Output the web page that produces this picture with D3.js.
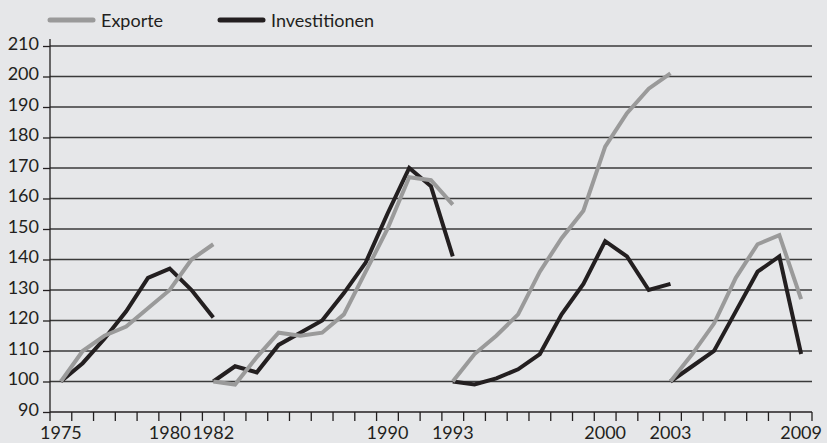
<!DOCTYPE html>
<html>
<head>
<meta charset="utf-8">
<script src="https://cdn.jsdelivr.net/npm/d3@7"></script>
<style>
  html, body { margin: 0; padding: 0; background: #e6e7e9; }
  svg { display: block; font-family: Lato, "Open Sans", sans-serif; }
</style>
</head>
<body>
<div id="chart"></div>
<script>
// categories: one band per year
var years = [1975, 1976, 1977, 1978, 1979, 1980, 1981, 1982, 1983, 1984, 1985, 1986,
  1987, 1988, 1989, 1990, 1991, 1992, 1993, 1994, 1995, 1996, 1997, 1998, 1999,
  2000, 2001, 2002, 2003, 2004, 2005, 2006, 2007, 2008, 2009];
var labelYears = [1975, 1980, 1982, 1990, 1993, 2000, 2003, 2009];
var yTicks = [90, 100, 110, 120, 130, 140, 150, 160, 170, 180, 190, 200, 210];

// each period is indexed to 100 in its first year
var periodStart = [1975, 1982, 1993, 2003];
var periodEnd = [1982, 1993, 2003, 2009];

var exporte1 = [100, 110, 115, 118, 124, 130, 140, 145];
var exporte2 = [100, 99, 108, 116, 115, 116, 122, 136, 150, 167, 166, 158];
var exporte3 = [100, 109, 115, 122, 136, 147, 156, 177, 188, 196, 201];
var exporte4 = [100, 109, 119, 134, 145, 148, 127];

var invest1 = [100, 106, 114, 123, 134, 137, 130, 121];
var invest2 = [100, 105, 103, 112, 116, 120, 129, 139, 155, 170, 164, 141];
var invest3 = [100, 99, 101, 104, 109, 122, 132, 146, 141, 130, 132];
var invest4 = [100, 105, 110, 123, 136, 141, 109];

var series = [
  { name: "Investitionen", color: "#231f20", periods: [invest1, invest2, invest3, invest4] },
  { name: "Exporte", color: "#9a9a9a", periods: [exporte1, exporte2, exporte3, exporte4] }
];

var w = 827, h = 443;
var svg = d3.select("#chart").append("svg")
  .attr("width", w)
  .attr("height", h);

var x = d3.scaleBand().domain(years).range([50, 812]);
var y = d3.scaleLinear().domain([90, 210]).range([412, 46]);
var cx = function(yr) { return x(yr) + x.bandwidth() / 2; };

// gridlines
svg.append("g").selectAll("line")
  .data(yTicks.slice(1))
  .enter().append("line")
  .attr("x1", 50).attr("x2", 812)
  .attr("y1", function(d) { return y(d); })
  .attr("y2", function(d) { return y(d); })
  .attr("stroke", "#3a3a3a")
  .attr("stroke-width", 1.3);

// y axis
var yAxis = svg.append("g")
  .attr("transform", "translate(50,0)")
  .call(d3.axisLeft(y).tickValues(yTicks).tickSize(7).tickPadding(4));
yAxis.select(".domain").attr("d", "M0,39V412").attr("stroke", "#231f20").attr("stroke-width", 1.3);
yAxis.selectAll(".tick line").attr("stroke", "#231f20").attr("stroke-width", 1.3);
yAxis.selectAll("text")
  .attr("font-size", 18)
  .attr("fill", "#231f20")
  .attr("dy", "0.3em")
  .attr("y", -2)
  .style("font-family", "Lato, 'Open Sans', sans-serif");

// x axis: ticks at band edges, labels at band centres
var xg = svg.append("g");
xg.append("line")
  .attr("x1", 50).attr("x2", 812)
  .attr("y1", 412).attr("y2", 412)
  .attr("stroke", "#231f20").attr("stroke-width", 1.3);
xg.selectAll("line.tick")
  .data(years.concat(["end"]))
  .enter().append("line")
  .attr("class", "tick")
  .attr("x1", function(d) { return d === "end" ? 812 : x(d); })
  .attr("x2", function(d) { return d === "end" ? 812 : x(d); })
  .attr("y1", 412).attr("y2", 421)
  .attr("stroke", "#231f20").attr("stroke-width", 1.3);
xg.selectAll("text")
  .data(labelYears)
  .enter().append("text")
  .attr("x", function(d) { return cx(d); })
  .attr("y", 439)
  .attr("text-anchor", "middle")
  .attr("font-size", 18)
  .attr("fill", "#231f20")
  .text(function(d) { return d; });

// lines
var line = d3.line()
  .x(function(d) { return cx(d.year); })
  .y(function(d) { return y(d.value); });

series.forEach(function(s) {
  s.periods.forEach(function(vals, i) {
    var yrs = years.slice(years.indexOf(periodStart[i]), years.indexOf(periodEnd[i]) + 1);
    var pts = vals.map(function(v, j) { return { year: yrs[j], value: v }; });
    svg.append("path")
      .datum(pts)
      .attr("d", line)
      .attr("fill", "none")
      .attr("stroke", s.color)
      .attr("stroke-width", 4)
      .attr("stroke-linejoin", "miter");
  });
});

// legend
var legend = [
  { name: "Exporte", color: "#9a9a9a", x: 50 },
  { name: "Investitionen", color: "#231f20", x: 220 }
];
var lg = svg.append("g").selectAll("g")
  .data(legend)
  .enter().append("g")
  .attr("transform", function(d) { return "translate(" + d.x + ",20)"; });
lg.append("line")
  .attr("x1", 0).attr("x2", 43)
  .attr("stroke", function(d) { return d.color; })
  .attr("stroke-width", 5)
  .attr("stroke-linecap", "round");
lg.append("text")
  .attr("x", 51)
  .attr("y", 7)
  .attr("font-size", 18)
  .attr("fill", "#231f20")
  .text(function(d) { return d.name; });
</script>
</body>
</html>
